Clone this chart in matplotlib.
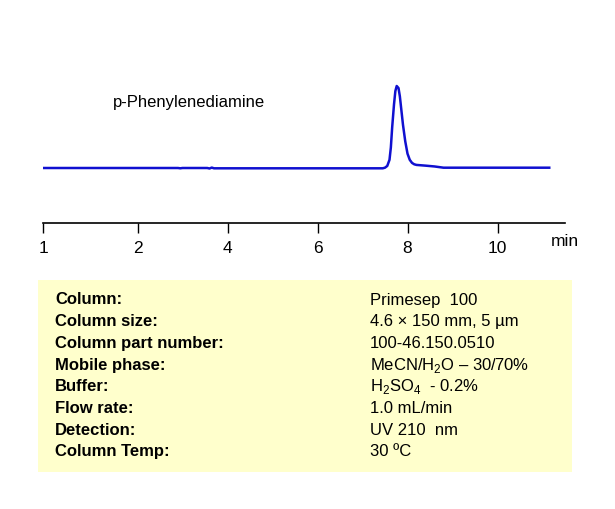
import matplotlib
matplotlib.use("Agg")
import matplotlib.pyplot as plt
from matplotlib.patches import Rectangle

time = [-0.1, 2.9, 2.95, 3.0, 3.55, 3.6, 3.65, 3.7, 7.45, 7.5, 7.55, 7.6, 7.63, 7.66, 7.7, 7.73, 7.76, 7.8, 7.83, 7.86, 7.9, 7.95, 8.0, 8.05, 8.1, 8.15, 8.2, 8.4, 8.6, 8.8, 11.15]
signal = [0.0, 0.0, -0.3, 0.0, 0.0, -0.5, 0.4, -0.3, -0.3, 0.3, 2, 8, 20, 40, 62, 75, 80, 78, 70, 58, 42, 26, 14, 8, 5, 3.6, 3.0, 2.3, 1.5, 0.3, 0.3]
tick_pos = [-0.1, 2, 4, 6, 8, 10]
tick_labels = ["1", "2", "4", "6", "8", "10"]
labels = ["Column:", "Column size:", "Column part number:", "Mobile phase:", "Buffer:", "Flow rate:", "Detection:", "Column Temp:"]
values = ["Primesep  100", "4.6 × 150 mm, 5 µm", "100-46.150.0510", "MeCN/H$_2$O – 30/70%",
          "H$_2$SO$_4$  - 0.2%", "1.0 mL/min", "UV 210  nm", "30 ºC"]

plt.rcParams['font.family'] = ['Liberation Sans', 'DejaVu Sans']
plt.rcParams['mathtext.fontset'] = 'custom'
plt.rcParams['mathtext.rm'] = 'Liberation Sans'
W, H = 615, 509
fig = plt.figure(figsize=(W/100, H/100), dpi=100)

ax = fig.add_axes([43/W, 1-223/H, (565-43)/W, (223-60)/H])
ax.plot(time, signal, color="#1010d0", lw=1.8)
ax.set_xlim(-0.1, 11.5)
ppu = 82/80
ax.set_ylim(-(223-168)/ppu, (168-60)/ppu)
for s in ["top", "right", "left"]:
    ax.spines[s].set_visible(False)
ax.spines["bottom"].set_linewidth(1.2)
ax.set_yticks([])
ax.set_xticks(tick_pos)
ax.set_xticklabels(tick_labels, fontsize=12.5)
ax.tick_params(axis="x", direction="out", length=7, width=1, pad=6)
fig.text(551/W, 1-241/H, "min", fontsize=12.5, ha="left", va="center")
ax.text(1.45, (168-103)/ppu, "p-Phenylenediamine", fontsize=12, ha="left", va="center")

fig.patches.append(Rectangle((38/W, 1-472/H), (572-38)/W, (472-280)/H,
                             transform=fig.transFigure, facecolor="#ffffcc", edgecolor="none", zorder=0))
y = 300
for l, v in zip(labels, values):
    fig.text(55/W, 1-y/H, l, fontsize=12, fontweight="bold", va="center")
    fig.text(370/W, 1-y/H, v, fontsize=12, va="center")
    y += 21.7

fig.savefig("out.png", dpi=100)
